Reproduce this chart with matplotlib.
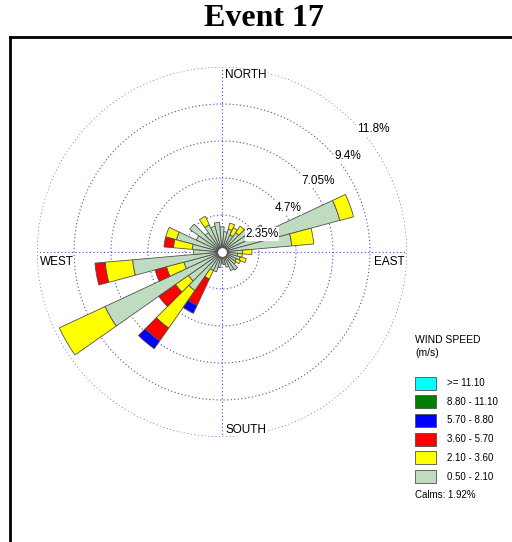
import numpy as np
import matplotlib
matplotlib.use("Agg")
import matplotlib.pyplot as plt
from matplotlib.lines import Line2D
from matplotlib.patches import Rectangle

# wind rose data: frequency (%) per 10-degree sector, split by speed class
directions = np.arange(0, 360, 10)
speed_classes = [">= 11.10", "8.80 - 11.10", "5.70 - 8.80", "3.60 - 5.70", "2.10 - 3.60", "0.50 - 2.10"]
class_colors = ["#00ffff", "#008000", "#0000ff", "#ff0000", "#ffff00", "#c0dcc0"]

# columns from slowest to fastest class
freq_050_210 = [1.6, 1.3, 1.5, 1.2, 1.5, 2.2, 3.0, 7.75, 4.45, 1.3, 1.0, 1.2,
                1.0, 1.1, 1.4, 1.3, 1.0, 0.8, 0.7, 1.0, 1.3, 1.3, 3.0, 2.6,
                8.2, 2.5, 5.7, 1.8, 1.9, 3.0, 1.8, 2.5, 1.5, 1.9, 1.7, 1.9]
freq_210_360 = [0, 0, 0.4, 0.5, 0.5, 0, 0, 0.9, 1.4, 0.6, 0.3, 0.4,
                0.3, 0, 0, 0, 0, 0, 0, 0, 0, 0.6, 2.9, 1.0,
                3.2, 1.15, 1.75, 0, 1.2, 0.7, 0, 0, 0, 0.6, 0, 0]
freq_360_570 = [0] * 21 + [1.85, 1.0, 1.3, 0, 0.75, 0.65, 0, 0.6] + [0] * 7
freq_570_880 = [0] * 21 + [0.55, 0.6] + [0] * 13
freq_880_1110 = [0] * 36
freq_ge_1110 = [0] * 36

rings = [2.35, 4.7, 7.05, 9.4, 11.75]
ring_labels = ["2.35%", "4.7%", "7.05%", "9.4%", "11.8%"]
calms = 1.92

W, H = 512, 542
fig = plt.figure(figsize=(W / 100, H / 100), dpi=100)

fig.text(264 / W, 1 - 18 / H, "Event 17", ha="center", va="center",
         fontsize=23, fontweight="bold", family="Liberation Serif")

# frame around the plot
fig.add_artist(Line2D([10 / W, 10 / W], [0, 1 - 37 / H], transform=fig.transFigure,
                      color="black", lw=2))
fig.add_artist(Line2D([10 / W, 1], [1 - 37 / H, 1 - 37 / H], transform=fig.transFigure,
                      color="black", lw=2))

cx, cy, R = 222, 252, 185
ax = fig.add_axes([(cx - R) / W, (H - cy - R) / H, 2 * R / W, 2 * R / H], projection="polar")
ax.set_theta_zero_location("N")
ax.set_theta_direction(-1)
ax.set_ylim(0, rings[-1])
ax.axis("off")

grid_col = "#4848c8"
dots = (0, (1, 2.2))
tt = np.linspace(0, 2 * np.pi, 600)
for r in rings:
    ax.plot(tt, np.full_like(tt, r), ls=dots, color=grid_col, lw=0.8, zorder=1)
for a in [0, 90, 180, 270]:
    ax.plot([np.radians(a)] * 2, [0, rings[-1]], ls=dots, color=grid_col, lw=0.8, zorder=1)

theta = np.radians(directions)
width = np.radians(10)
stack = [freq_050_210, freq_210_360, freq_360_570, freq_570_880, freq_880_1110, freq_ge_1110]
stack_colors = class_colors[::-1]
bottom = np.zeros(len(directions))
for vals, col in zip(stack, stack_colors):
    vals = np.array(vals)
    mask = vals > 0
    ax.bar(theta[mask], vals[mask], width=width, bottom=bottom[mask], color=col,
           edgecolor="#505050", linewidth=0.6, zorder=3)
    bottom += vals

ax.scatter([0], [0], s=50, color="white", edgecolor="#505050", linewidth=0.7, zorder=6)

# ring labels along the north-east diagonal
label_pos = [(65.8, 2.79), (56.3, 5.04), (53.5, 7.58), (52.7, 10.06), (50.8, 12.38)]
for (b, r), txt in zip(label_pos, ring_labels):
    ax.text(np.radians(b), r, txt, ha="center", va="center", fontsize=8.5,
            family="Liberation Sans", zorder=7,
            bbox=dict(facecolor="white", edgecolor="none", pad=0.5))

lab_kw = dict(fontsize=8.5, family="Liberation Sans", zorder=7,
              bbox=dict(facecolor="white", edgecolor="none", pad=0.3))
fig.text(225 / W, 1 - 75 / H, "NORTH", ha="left", va="center", **lab_kw)
fig.text(225 / W, 1 - 430 / H, "SOUTH", ha="left", va="center", **lab_kw)
fig.text(40 / W, 1 - 262 / H, "WEST", ha="left", va="center", **lab_kw)
fig.text(405 / W, 1 - 262 / H, "EAST", ha="right", va="center", **lab_kw)

# legend
leg_kw = dict(family="Liberation Sans", va="center", ha="left")
fig.text(415 / W, 1 - 340 / H, "WIND SPEED", fontsize=7.5, **leg_kw)
fig.text(415 / W, 1 - 353 / H, "(m/s)", fontsize=7.5, **leg_kw)
for i, (lab, col) in enumerate(zip(speed_classes, class_colors)):
    yc = 383 + i * 18.7
    fig.add_artist(Rectangle((415 / W, 1 - (yc + 6.5) / H), 21 / W, 13 / H,
                             transform=fig.transFigure, facecolor=col,
                             edgecolor="#505050", linewidth=0.6))
    fig.text(447 / W, 1 - yc / H, lab, fontsize=7, **leg_kw)
fig.text(415 / W, 1 - 495 / H, f"Calms: {calms:.2f}%", fontsize=7, **leg_kw)

fig.savefig("out.png", dpi=100)
